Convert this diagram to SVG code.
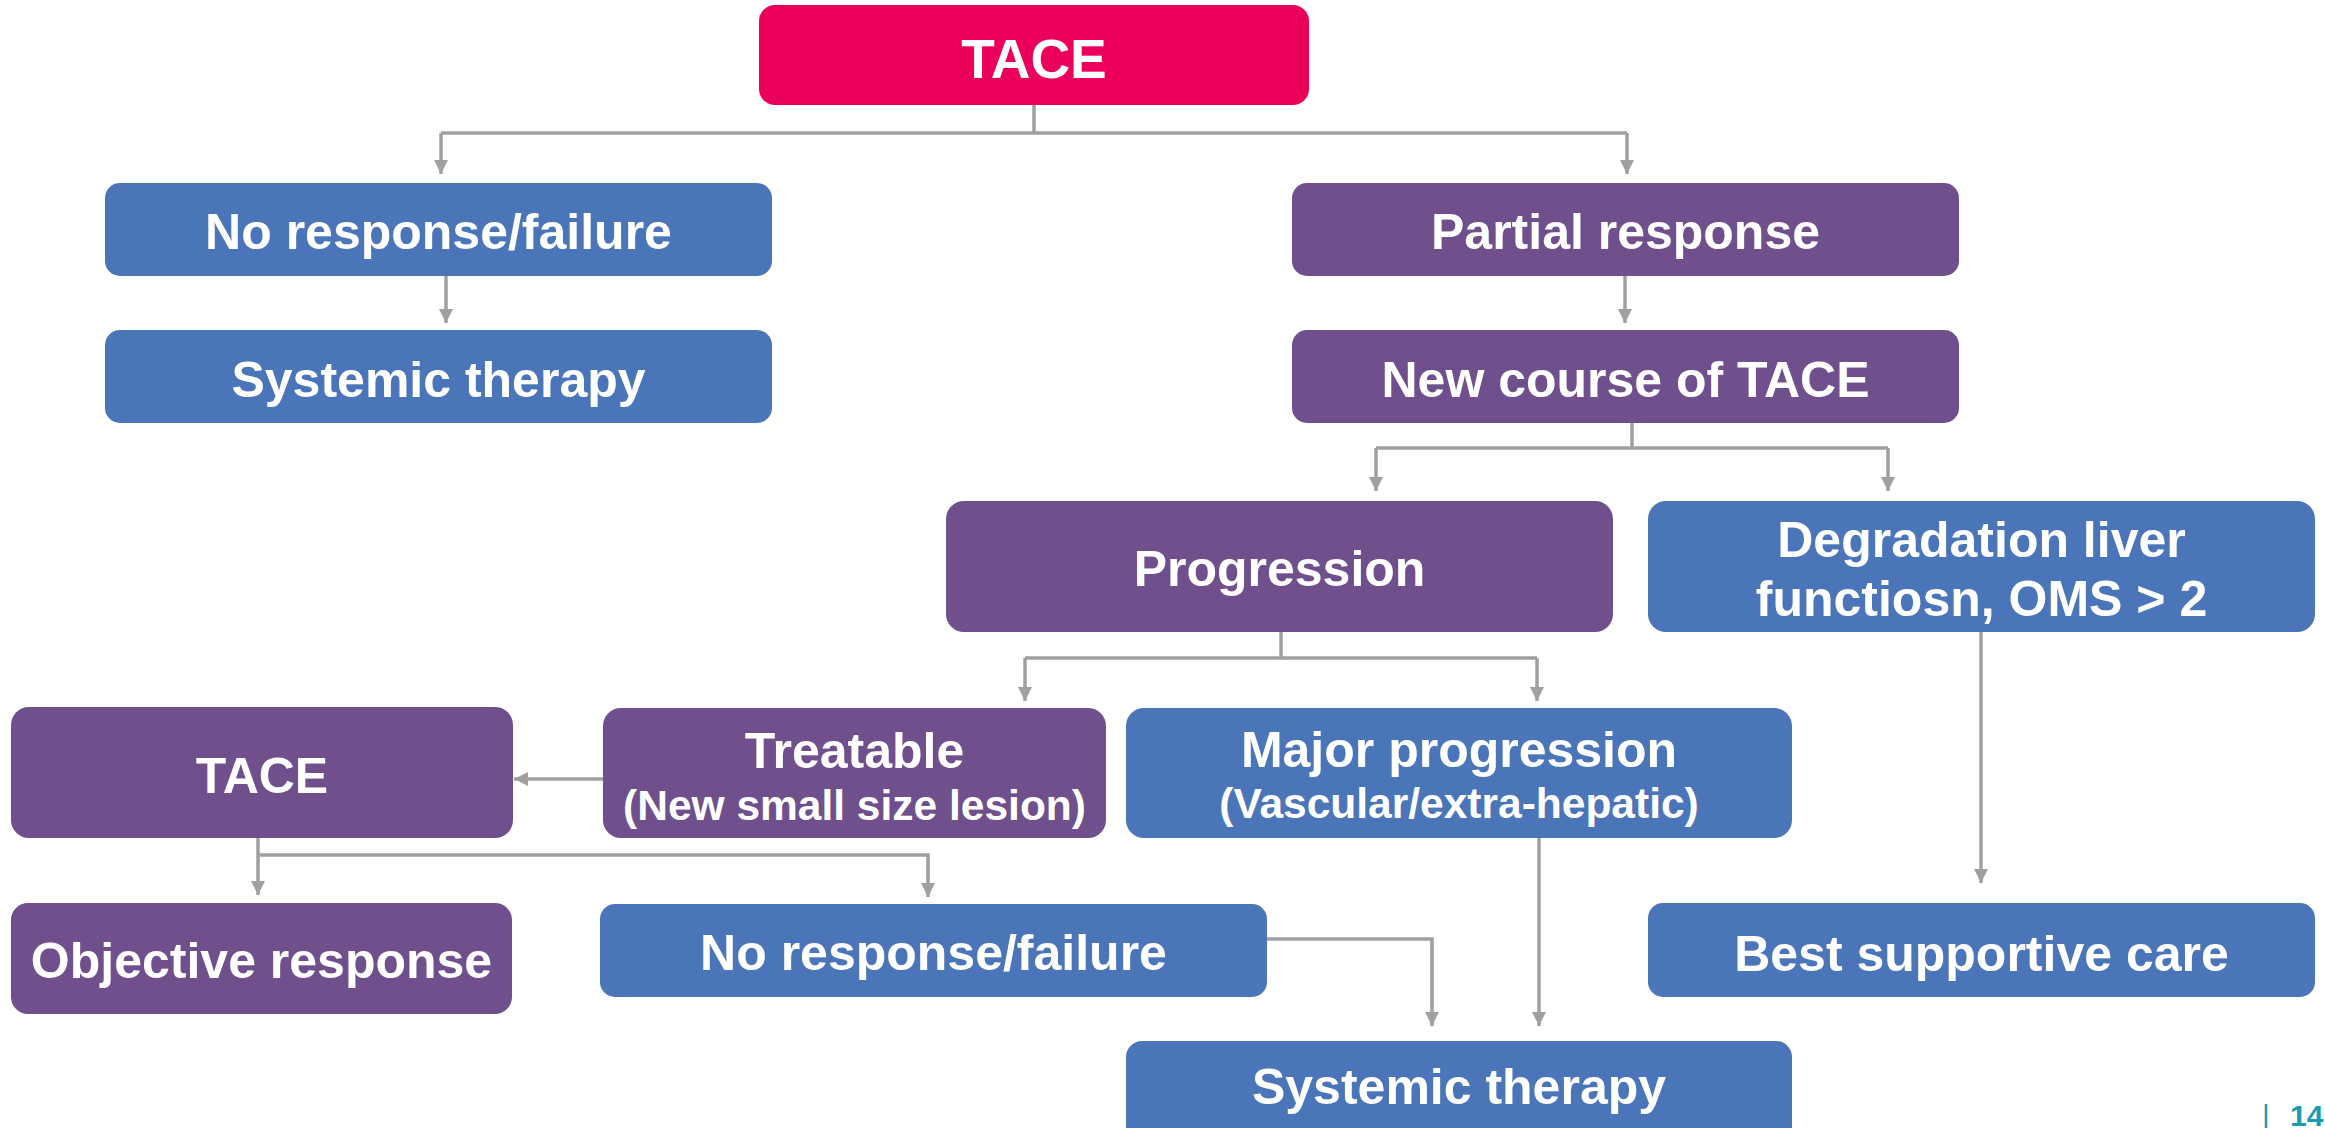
<svg xmlns="http://www.w3.org/2000/svg" width="2325" height="1128" viewBox="0 0 2325 1128">
<defs>
<style>
.blue{fill:#4a75b8}
.purple{fill:#6f4f8c}
.pink{fill:#eb005b}
.t{font-family:"Liberation Sans",Arial,sans-serif;font-weight:bold;fill:#ffffff;text-anchor:middle;font-size:50px}
.s{font-size:42.5px}
.con{fill:none;stroke:#a0a0a0;stroke-width:3.5}
.pg{font-family:"Liberation Sans",Arial,sans-serif;fill:#1b9bb0;font-size:30px}
</style>
<marker id="ah" markerUnits="userSpaceOnUse" markerWidth="15" markerHeight="14" viewBox="0 0 10 10" refX="10" refY="5" orient="auto">
<path d="M0,0 L10,5 L0,10 z" fill="#a0a0a0"/>
</marker>
</defs>
<rect width="2325" height="1128" fill="#ffffff"/>

<g id="connectors">
<path class="con" d="M1034 105 V133"/>
<path class="con" d="M441 133 H1627"/>
<path class="con" d="M441 133 V174" marker-end="url(#ah)"/>
<path class="con" d="M1627 133 V174" marker-end="url(#ah)"/>
<path class="con" d="M446 276 V323" marker-end="url(#ah)"/>
<path class="con" d="M1625 276 V323" marker-end="url(#ah)"/>
<path class="con" d="M1632 423 V448"/>
<path class="con" d="M1376 448 H1888"/>
<path class="con" d="M1376 448 V491" marker-end="url(#ah)"/>
<path class="con" d="M1888 448 V491" marker-end="url(#ah)"/>
<path class="con" d="M1281 588 V658"/>
<path class="con" d="M1025 658 H1537"/>
<path class="con" d="M1025 658 V701" marker-end="url(#ah)"/>
<path class="con" d="M1537 658 V701" marker-end="url(#ah)"/>
<path class="con" d="M1981 632 V883" marker-end="url(#ah)"/>
<path class="con" d="M603 779 H514" marker-end="url(#ah)"/>
<path class="con" d="M258 838 V895" marker-end="url(#ah)"/>
<path class="con" d="M258 855 H928 V897" marker-end="url(#ah)"/>
<path class="con" d="M1267 939 H1432 V1026" marker-end="url(#ah)"/>
<path class="con" d="M1539 838 V1026" marker-end="url(#ah)"/>
</g>

<g id="tace-top">
<rect class="pink" x="759" y="5" width="550" height="100" rx="16"/>
<text class="t" x="1034" y="78" style="font-size:55px">TACE</text>
</g>
<g id="no-response-top">
<rect class="blue" x="105" y="183" width="667" height="93" rx="15"/>
<text class="t" x="438.5" y="249">No response/failure</text>
</g>
<g id="systemic-top">
<rect class="blue" x="105" y="330" width="667" height="93" rx="15"/>
<text class="t" x="438.5" y="397">Systemic therapy</text>
</g>
<g id="partial-response">
<rect class="purple" x="1292" y="183" width="667" height="93" rx="15"/>
<text class="t" x="1625.5" y="249">Partial response</text>
</g>
<g id="new-course">
<rect class="purple" x="1292" y="330" width="667" height="93" rx="15"/>
<text class="t" x="1625.5" y="397">New course of TACE</text>
</g>
<g id="progression">
<rect class="purple" x="946" y="501" width="667" height="131" rx="18"/>
<text class="t" x="1279.5" y="586">Progression</text>
</g>
<g id="degradation">
<rect class="blue" x="1648" y="501" width="667" height="131" rx="18"/>
<text class="t" x="1981.5" y="557">Degradation liver</text>
<text class="t" x="1981.5" y="616">functiosn, OMS &gt; 2</text>
</g>
<g id="tace-left">
<rect class="purple" x="11" y="707" width="502" height="131" rx="18"/>
<text class="t" x="262" y="793">TACE</text>
</g>
<g id="treatable">
<rect class="purple" x="603" y="708" width="503" height="130" rx="18"/>
<text class="t" x="854.5" y="768">Treatable</text>
<text class="t s" x="854.5" y="820">(New small size lesion)</text>
</g>
<g id="major-progression">
<rect class="blue" x="1126" y="708" width="666" height="130" rx="18"/>
<text class="t" x="1459" y="767">Major progression</text>
<text class="t s" x="1459" y="818">(Vascular/extra-hepatic)</text>
</g>
<g id="objective-response">
<rect class="purple" x="11" y="903" width="501" height="111" rx="17"/>
<text class="t" x="261.5" y="978">Objective response</text>
</g>
<g id="no-response-bottom">
<rect class="blue" x="600" y="904" width="667" height="93" rx="15"/>
<text class="t" x="933.5" y="970">No response/failure</text>
</g>
<g id="best-supportive-care">
<rect class="blue" x="1648" y="903" width="667" height="94" rx="15"/>
<text class="t" x="1981.5" y="971">Best supportive care</text>
</g>
<g id="systemic-bottom">
<rect class="blue" x="1126" y="1041" width="666" height="110" rx="16"/>
<text class="t" x="1459" y="1104">Systemic therapy</text>
</g>
<g id="page-number">
<text class="pg" x="2262" y="1126">|</text>
<text class="pg" x="2290" y="1126" style="font-weight:bold">14</text>
</g>
</svg>
